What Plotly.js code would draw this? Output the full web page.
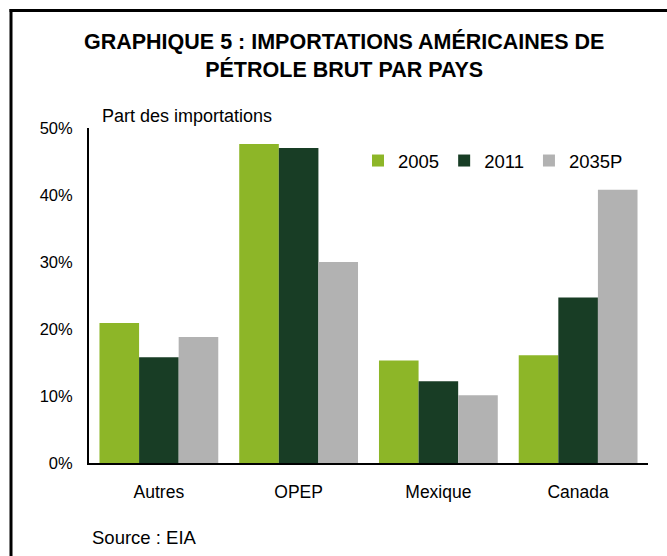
<!DOCTYPE html>
<html>
<head>
<meta charset="utf-8">
<script src="https://cdn.plot.ly/plotly-3.0.1.min.js"></script>
<style>html,body{margin:0;padding:0;background:#fff;}#chart{width:667px;height:556px;}</style>
</head>
<body>
<div id="chart"></div>
<script>
const categories = ["Autres", "OPEP", "Mexique", "Canada"];
const seriesNames = ["2005", "2011", "2035P"];
const values2005 = [0.209, 0.476, 0.153, 0.161];
const values2011 = [0.158, 0.470, 0.122, 0.247];
const values2035 = [0.188, 0.300, 0.101, 0.408];
const yTickVals = [0, 0.1, 0.2, 0.3, 0.4, 0.5];
const yTickText = ["0%", "10%", "20%", "30%", "40%", "50%"];
const colors = ["#8db628", "#183d25", "#b2b2b2"];

const font = "Liberation Sans, Arial, sans-serif";
const allValues = [values2005, values2011, values2035];
const data = allValues.map((v, i) => ({
  type: "bar",
  name: seriesNames[i],
  x: categories,
  y: v,
  marker: {color: colors[i], line: {width: 0}},
  hoverinfo: "skip"
}));

const L = 89, R = 19, T = 128, B = 93;
const W = 667, H = 556;
const pw = W - L - R, ph = H - T - B;
const px = x => (x - L) / pw;
const py = y => (H - B - y) / ph;

const layout = {
  width: W, height: H,
  margin: {l: L, r: R, t: T, b: B, pad: 0},
  paper_bgcolor: "#fff", plot_bgcolor: "#fff",
  font: {family: font, size: 16.5, color: "#000"},
  title: {
    text: "<b>GRAPHIQUE 5 : IMPORTATIONS AMÉRICAINES DE<br>PÉTROLE BRUT PAR PAYS</b>",
    font: {family: font, size: 21.5, color: "#000"},
    x: 0.516, xanchor: "center", xref: "container",
    y: 1 - 49 / H, yanchor: "middle", yref: "container"
  },
  barmode: "group",
  bargap: 0.15, bargroupgap: 0,
  showlegend: true,
  legend: {
    orientation: "h", x: px(358), xanchor: "left", y: py(142), yanchor: "top",
    font: {family: font, size: 18.5, color: "#000"},
    bgcolor: "rgba(0,0,0,0)", traceorder: "normal",
    itemwidth: 30
  },
  xaxis: {
    showline: true, linecolor: "#000", linewidth: 2,
    ticks: "", showgrid: false, zeroline: false,
    tickfont: {family: font, size: 17.5, color: "#000"},
    ticklabelstandoff: 12, fixedrange: true
  },
  yaxis: {
    range: [0, 0.5],
    tickvals: yTickVals, ticktext: yTickText,
    showline: true, linecolor: "#000", linewidth: 2,
    ticks: "", showgrid: false, zeroline: false,
    tickfont: {family: font, size: 16.5, color: "#000"},
    ticklabelstandoff: 11, fixedrange: true
  },
  shapes: [
    {type: "line", xref: "paper", yref: "paper", x0: px(11), x1: px(11), y0: py(9), y1: py(600), line: {color: "#000", width: 3}},
    {type: "line", xref: "paper", yref: "paper", x0: px(9.5), x1: px(700), y0: py(10.5), y1: py(10.5), line: {color: "#000", width: 3}}
  ],
  annotations: [
    {text: "Part des importations", xref: "paper", yref: "paper", x: px(100), y: py(116), xanchor: "left", yanchor: "middle", showarrow: false, font: {family: font, size: 18, color: "#000"}},
    {text: "Source : EIA", xref: "paper", yref: "paper", x: px(90), y: py(537), xanchor: "left", yanchor: "middle", showarrow: false, font: {family: font, size: 18.5, color: "#000"}}
  ]
};

Plotly.newPlot("chart", data, layout, {displayModeBar: false, staticPlot: true});
</script>
</body>
</html>
